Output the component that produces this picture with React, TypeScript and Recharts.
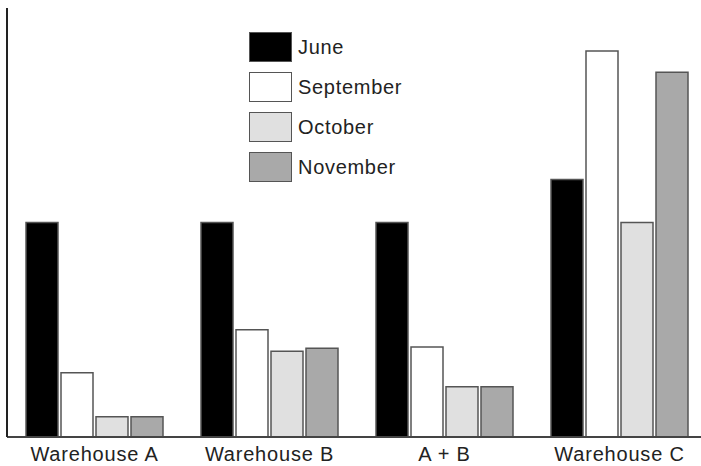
import React from "react";
import { BarChart, Bar, XAxis, YAxis, Legend } from "recharts";

const categories = ["Warehouse A", "Warehouse B", "A + B", "Warehouse C"];
const june = [50, 50, 50, 60];
const september = [15, 25, 21, 90];
const october = [4.7, 20, 11.7, 50];
const november = [4.7, 20.7, 11.7, 85];

const seriesNames = ["June", "September", "October", "November"];
const seriesKeys = ["june", "september", "october", "november"];
const seriesFills = ["#000000", "#ffffff", "#e0e0e0", "#a9a9a9"];

const data = categories.map((c, i) => ({
  name: c,
  june: june[i],
  september: september[i],
  october: october[i],
  november: november[i],
}));

const FONT = "'Liberation Sans', Arial, Helvetica, sans-serif";

const LegendContent = () => (
  <div style={{ fontFamily: FONT }}>
    {seriesNames.map((n, i) => (
      <div key={n} style={{ display: "flex", alignItems: "center", height: 40 }}>
        <div
          style={{
            width: 41,
            height: 28,
            background: seriesFills[i],
            border: "1.5px solid #555",
            marginRight: 6,
          }}
        />
        <span style={{ fontSize: 20, letterSpacing: 0.7, color: "#222" }}>{n}</span>
      </div>
    ))}
  </div>
);

export default function App() {
  return (
    <div
      style={{
        position: "fixed",
        left: 0,
        top: 0,
        width: 701,
        height: 466,
        overflow: "hidden",
        background: "#fff",
      }}
    >
      <BarChart
        width={710}
        height={466}
        data={data}
        margin={{ top: 8, right: 3, bottom: 0, left: 5 }}
        barCategoryGap={19}
        barGap={3}
      >
        <XAxis
          dataKey="name"
          height={29}
          tickLine={false}
          axisLine={{ stroke: "#444", strokeWidth: 2 }}
          tickMargin={4}
          interval={0}
          tick={{ fill: "#222", fontSize: 20, letterSpacing: 0.8, fontFamily: FONT }}
        />
        <YAxis
          width={2}
          domain={[0, 100]}
          tick={false}
          tickLine={false}
          axisLine={{ stroke: "#222", strokeWidth: 2 }}
        />
        <Legend
          content={<LegendContent />}
          layout="vertical"
          verticalAlign="middle"
          align="center"
          wrapperStyle={{ left: 249, top: 27, width: 200 }}
        />
        {seriesKeys.map((k, i) => (
          <Bar
            key={k}
            dataKey={k}
            name={seriesNames[i]}
            fill={seriesFills[i]}
            stroke="#555"
            strokeWidth={1.5}
            isAnimationActive={false}
          />
        ))}
      </BarChart>
    </div>
  );
}
